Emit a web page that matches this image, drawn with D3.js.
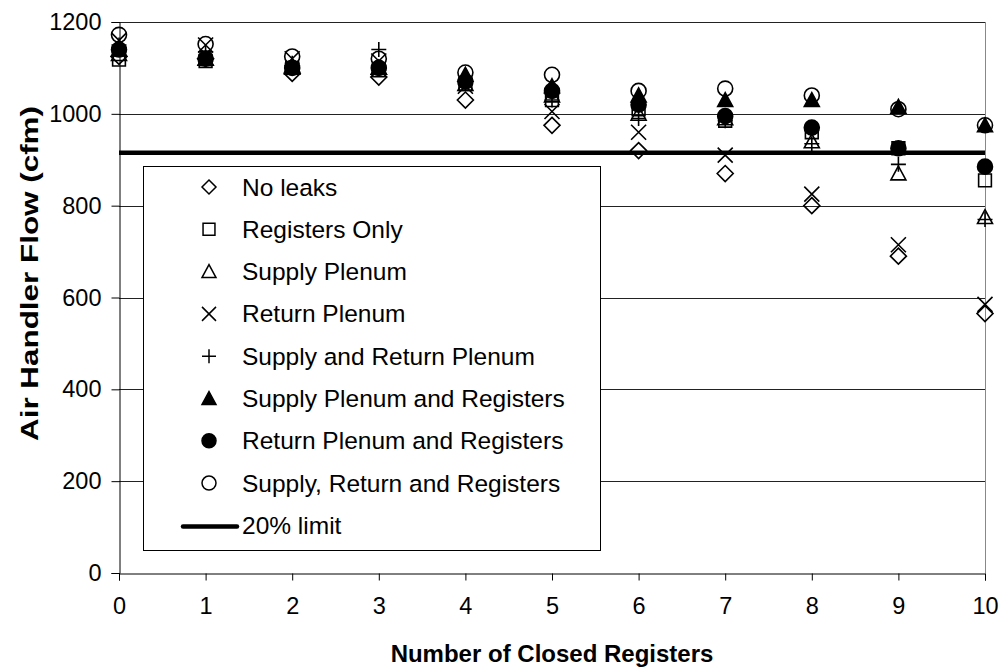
<!DOCTYPE html>
<html>
<head>
<meta charset="utf-8">
<script src="https://cdn.jsdelivr.net/npm/d3@7"></script>
<style>
  body { margin: 0; background: #fff; }
  svg { display: block; font-family: "Liberation Sans", Arial, sans-serif; }
</style>
</head>
<body>
<svg id="chart"></svg>
<script>
// closed registers 0..10
const closedRegisters = [0, 1, 2, 3, 4, 5, 6, 7, 8, 9, 10];
const noLeaks = [1125, 1120, 1088, 1080, 1030, 975, 920, 870, 800, 690, 565];
const registersOnly = [1118, 1115, 1100, 1095, 1065, 1030, 1010, 985, 960, 925, 855];
const supplyPlenum = [1130, 1120, 1100, 1100, 1065, 1040, 1000, 990, 940, 870, 775];
const returnPlenum = [1160, 1150, 1120, 1115, 1060, 1005, 960, 910, 825, 715, 585];
const supplyReturnPlenum = [1150, 1135, 1110, 1140, 1070, 1030, 990, 985, 935, 890, 770];
const supplyPlenumRegisters = [1140, 1120, 1105, 1100, 1085, 1060, 1040, 1030, 1030, 1015, 975];
const returnPlenumRegisters = [1140, 1120, 1100, 1100, 1070, 1050, 1020, 995, 970, 925, 885];
const supplyReturnRegisters = [1172, 1152, 1125, 1120, 1090, 1085, 1050, 1055, 1040, 1010, 975];
const limitValue = 915;
const yTicks = [0, 200, 400, 600, 800, 1000, 1200];

const seriesNames = ["No leaks", "Registers Only", "Supply Plenum", "Return Plenum",
  "Supply and Return Plenum", "Supply Plenum and Registers", "Return Plenum and Registers",
  "Supply, Return and Registers"];
const seriesValues = [noLeaks, registersOnly, supplyPlenum, returnPlenum,
  supplyReturnPlenum, supplyPlenumRegisters, returnPlenumRegisters, supplyReturnRegisters];
const seriesShapes = ["diamond", "square", "triangle", "cross", "plus", "triangle", "circle", "circle"];
const seriesFilled = [false, false, false, false, false, true, true, false];

const width = 1000;
const height = 667;
const margin = {left: 119, right: 15, top: 22, bottom: 94};
const fontSize = "23.5px";

const svg = d3.select("#chart")
  .attr("width", width)
  .attr("height", height);

const x = d3.scaleLinear().domain([0, 10]).range([margin.left, width - margin.right]);
const y = d3.scaleLinear().domain([0, 1200]).range([height - margin.bottom, margin.top]);

// marker path, s = full size in px
function markerPath(shape, s)
{
  const h = s / 2;
  switch (shape)
  {
    case "diamond": return `M0,${-h}L${h},0L0,${h}L${-h},0Z`;
    case "square": { const q = h * 0.85; return `M${-q},${-q}H${q}V${q}H${-q}Z`; }
    case "triangle": return `M0,${-h}L${h},${h * 0.85}H${-h}Z`;
    case "cross": return `M${-h},${-h}L${h},${h}M${h},${-h}L${-h},${h}`;
    case "plus": return `M${-h},0H${h}M0,${-h}V${h}`;
    case "circle": return `M${h},0A${h},${h},0,1,1,${-h},0A${h},${h},0,1,1,${h},0Z`;
  }
}

// gridlines
svg.append("g")
  .selectAll("line")
  .data(yTicks.filter(d => d > 0))
  .enter().append("line")
  .attr("x1", x(0)).attr("x2", x(10))
  .attr("y1", d => Math.round(y(d)) + 0.5).attr("y2", d => Math.round(y(d)) + 0.5)
  .attr("stroke", "#222").attr("stroke-width", 1);

// right border
svg.append("line")
  .attr("x1", Math.round(x(10)) + 0.5).attr("x2", Math.round(x(10)) + 0.5)
  .attr("y1", y(1200)).attr("y2", y(0))
  .attr("stroke", "#888").attr("stroke-width", 1);

// axes
const yAxis = svg.append("g")
  .attr("transform", `translate(${Math.round(x(0)) + 0.5},0)`)
  .call(d3.axisLeft(y).tickValues(yTicks).tickFormat(d3.format("d")).tickSize(8).tickPadding(10));
const xAxis = svg.append("g")
  .attr("transform", `translate(0,${Math.round(y(0)) + 0.5})`)
  .call(d3.axisBottom(x).tickValues(closedRegisters).tickFormat(d3.format("d")).tickSize(7).tickPadding(17));

[xAxis, yAxis].forEach(ax =>
{
  ax.select(".domain").attr("stroke", "#000");
  ax.selectAll(".tick line").attr("stroke", "#000");
  ax.selectAll(".tick text").attr("font-size", fontSize).attr("fill", "#000")
    .attr("font-family", "Liberation Sans, Arial, sans-serif");
});

// 20% limit
svg.append("line")
  .attr("x1", x(0)).attr("x2", x(10))
  .attr("y1", y(limitValue)).attr("y2", y(limitValue))
  .attr("stroke", "#000").attr("stroke-width", 4.5);

// data points
seriesValues.forEach((vals, i) =>
{
  svg.append("g")
    .selectAll("path")
    .data(vals)
    .enter().append("path")
    .attr("transform", (d, j) => `translate(${x(closedRegisters[j])},${y(d)})`)
    .attr("d", markerPath(seriesShapes[i], seriesShapes[i] === "diamond" ? 16 : 15))
    .attr("fill", seriesFilled[i] ? "#000" : "none")
    .attr("stroke", "#000")
    .attr("stroke-width", 1.6);
});

// legend
const legend = svg.append("g");
legend.append("rect")
  .attr("x", 143.5).attr("y", 166.5)
  .attr("width", 457).attr("height", 384)
  .attr("fill", "#fff").attr("stroke", "#000").attr("stroke-width", 1);

const rowY = i => 187 + i * 42.3;
seriesNames.forEach((name, i) =>
{
  legend.append("path")
    .attr("transform", `translate(209,${rowY(i)})`)
    .attr("d", markerPath(seriesShapes[i], 14))
    .attr("fill", seriesFilled[i] ? "#000" : "none")
    .attr("stroke", "#000")
    .attr("stroke-width", 1.5);
  legend.append("text")
    .attr("x", 242).attr("y", rowY(i))
    .attr("dy", "0.35em")
    .attr("font-size", "24.5px")
    .text(name);
});
legend.append("line")
  .attr("x1", 183).attr("x2", 237)
  .attr("y1", rowY(8) + 1).attr("y2", rowY(8) + 1)
  .attr("stroke", "#000").attr("stroke-width", 4.5).attr("stroke-linecap", "round");
legend.append("text")
  .attr("x", 242).attr("y", rowY(8))
  .attr("dy", "0.35em")
  .attr("font-size", "24.5px")
  .text("20% limit");

// axis titles
svg.append("text")
  .attr("x", (x(0) + x(10)) / 2).attr("y", 662)
  .attr("text-anchor", "middle")
  .attr("font-size", "24px").attr("font-weight", "bold")
  .text("Number of Closed Registers");
svg.append("text")
  .attr("transform", `translate(38,${(y(0) + y(1200)) / 2 - 24}) rotate(-90)`)
  .attr("text-anchor", "middle")
  .attr("font-size", "24px").attr("font-weight", "bold")
  .attr("textLength", 335).attr("lengthAdjust", "spacingAndGlyphs")
  .text("Air Handler Flow (cfm)");
</script>
</body>
</html>
